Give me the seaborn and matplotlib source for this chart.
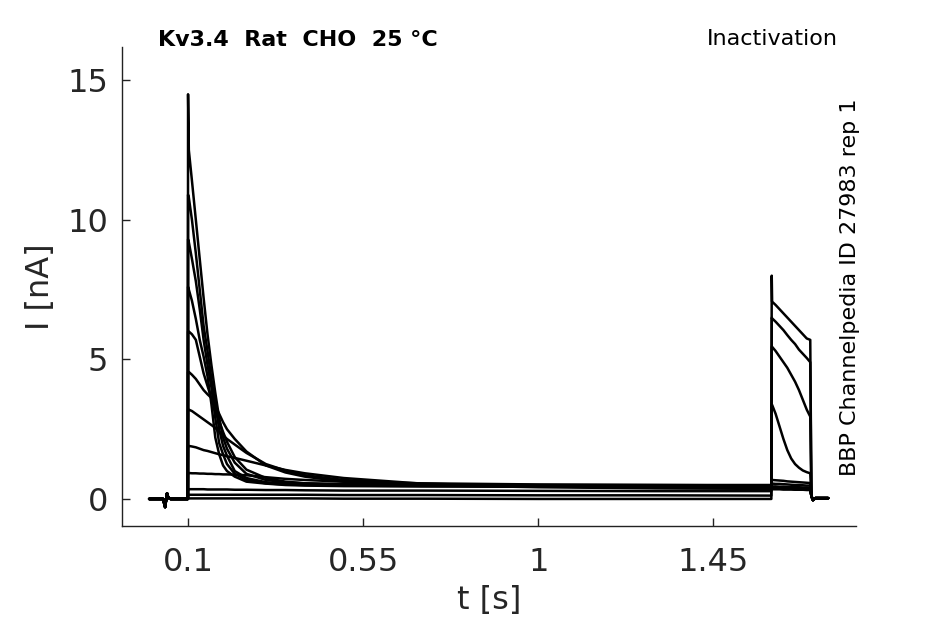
import pandas as pd
import matplotlib
matplotlib.use("Agg")
import matplotlib.pyplot as plt
import seaborn as sns

sns.set_theme(style="ticks")
plt.rcParams["font.family"] = ["DejaVu Sans"]

# shared holding segment before the prepulse (with the small artifact)
pre_t = [0.0, 0.036, 0.041, 0.046, 0.049, 0.055, 0.0995]
pre_i = [0.0, 0.0, -0.29, 0.2, 0.05, 0.0, 0.0]

# prepulse segment, one list per trace
pp_t = [0.1, 0.102, 0.11, 0.12, 0.13, 0.14, 0.15, 0.16, 0.17, 0.18, 0.19, 0.2,
        0.22, 0.25, 0.3, 0.35, 0.4, 0.5, 0.7, 1.0, 1.3, 1.599]
pp = [
    [0.02, 0.02, 0.02, 0.02, 0.02, 0.02, 0.02, 0.02, 0.02, 0.02, 0.02, 0.02,
     0.02, 0.02, 0.02, 0.02, 0.02, 0.01, 0.01, 0.0, 0.0, 0.0],
    [0.15, 0.15, 0.15, 0.15, 0.15, 0.15, 0.15, 0.15, 0.15, 0.15, 0.15, 0.15,
     0.15, 0.15, 0.15, 0.15, 0.15, 0.14, 0.14, 0.13, 0.13, 0.12],
    [0.35, 0.35, 0.35, 0.35, 0.35, 0.35, 0.34, 0.34, 0.34, 0.34, 0.34, 0.34,
     0.33, 0.33, 0.32, 0.32, 0.31, 0.3, 0.3, 0.29, 0.28, 0.28],
    [0.93, 0.93, 0.92, 0.92, 0.91, 0.91, 0.9, 0.9, 0.89, 0.89, 0.88, 0.88,
     0.87, 0.85, 0.78, 0.72, 0.68, 0.62, 0.56, 0.52, 0.5, 0.5],
    [1.9, 1.9, 1.88, 1.85, 1.8, 1.75, 1.72, 1.68, 1.64, 1.6, 1.57, 1.53,
     1.47, 1.37, 1.2, 1.04, 0.92, 0.75, 0.55, 0.45, 0.4, 0.38],
    [3.2, 3.2, 3.15, 3.05, 2.95, 2.85, 2.75, 2.65, 2.55, 2.4, 2.28, 2.15,
     1.95, 1.65, 1.25, 1.02, 0.85, 0.68, 0.52, 0.45, 0.42, 0.4],
    [4.55, 4.55, 4.45, 4.3, 4.1, 3.9, 3.75, 3.62, 3.35, 3.05, 2.75, 2.5,
     2.15, 1.7, 1.2, 0.95, 0.8, 0.62, 0.5, 0.42, 0.38, 0.36],
    [6.0, 6.0, 5.9, 5.7, 5.1, 4.5, 4.05, 3.6, 3.15, 2.8, 2.4, 2.05,
     1.5, 1.05, 0.75, 0.62, 0.56, 0.5, 0.47, 0.45, 0.44, 0.43],
    [7.6, 7.5, 7.1, 6.45, 5.7, 5.1, 4.4, 3.4, 2.2, 1.6, 1.2, 1.0,
     0.8, 0.62, 0.55, 0.5, 0.48, 0.46, 0.45, 0.44, 0.43, 0.42],
    [9.3, 9.2, 8.6, 7.8, 6.8, 5.7, 4.8, 4.0, 2.9, 2.0, 1.6, 1.25,
     0.9, 0.68, 0.56, 0.52, 0.5, 0.48, 0.46, 0.45, 0.44, 0.43],
    [10.9, 10.8, 10.0, 8.8, 7.5, 6.2, 5.3, 4.3, 3.4, 2.5, 1.9, 1.55,
     1.0, 0.75, 0.6, 0.55, 0.52, 0.5, 0.48, 0.46, 0.45, 0.44],
    [14.5, 12.5, 11.4, 10.0, 8.6, 7.2, 5.9, 4.8, 3.8, 2.9, 2.2, 1.8,
     1.3, 0.9, 0.68, 0.6, 0.56, 0.54, 0.52, 0.5, 0.5, 0.48],
]

# test pulse segment
tp_t = [1.6, 1.601, 1.61, 1.62, 1.63, 1.64, 1.65, 1.66, 1.67, 1.68, 1.69, 1.699]
tp = [
    [8.0, 7.07, 6.95, 6.8, 6.65, 6.5, 6.35, 6.2, 6.05, 5.9, 5.75, 5.7],
    [6.5, 6.47, 6.35, 6.2, 6.05, 5.87, 5.7, 5.55, 5.35, 5.2, 5.05, 4.9],
    [5.45, 5.45, 5.3, 5.1, 4.9, 4.7, 4.45, 4.2, 3.9, 3.55, 3.2, 2.95],
    [3.37, 3.37, 3.05, 2.6, 2.15, 1.75, 1.45, 1.25, 1.12, 1.02, 0.96, 0.92],
    [0.68, 0.68, 0.67, 0.66, 0.65, 0.63, 0.62, 0.61, 0.6, 0.59, 0.58, 0.57],
    [0.55, 0.55, 0.54, 0.54, 0.53, 0.52, 0.51, 0.5, 0.5, 0.49, 0.48, 0.48],
    [0.45, 0.45, 0.45, 0.44, 0.44, 0.43, 0.43, 0.42, 0.42, 0.41, 0.41, 0.4],
    [0.42, 0.42, 0.42, 0.41, 0.41, 0.41, 0.4, 0.4, 0.4, 0.39, 0.39, 0.39],
    [0.4, 0.4, 0.4, 0.4, 0.39, 0.39, 0.39, 0.38, 0.38, 0.38, 0.37, 0.37],
    [0.38, 0.38, 0.38, 0.38, 0.37, 0.37, 0.37, 0.36, 0.36, 0.36, 0.35, 0.35],
    [0.36, 0.36, 0.36, 0.36, 0.35, 0.35, 0.35, 0.34, 0.34, 0.34, 0.33, 0.33],
    [0.35, 0.35, 0.35, 0.35, 0.34, 0.34, 0.34, 0.33, 0.33, 0.33, 0.32, 0.32],
]

# shared tail after the test pulse
tail_t = [1.702, 1.706, 1.712, 1.745]
tail_i = [0.1, -0.04, 0.03, 0.03]

xticks = [0.1, 0.55, 1, 1.45]
xticklabels = ["0.1", "0.55", "1", "1.45"]
yticks = [0, 5, 10, 15]

rows = []
for k in range(len(pp)):
    ts = pre_t + pp_t + tp_t + tail_t
    vs = pre_i + pp[k] + tp[k] + tail_i
    for t, v in zip(ts, vs):
        rows.append({"trace": k, "t": t, "I": v})
df = pd.DataFrame(rows)

fig = plt.figure(figsize=(9.45, 6.24), dpi=100)
ax = fig.add_axes([0.129, 0.157, 0.777, 0.768])

sns.lineplot(data=df, x="t", y="I", units="trace", estimator=None, sort=False,
             color="black", linewidth=1.8, ax=ax, legend=False)

ax.set_xlim(-0.07, 1.817)
ax.set_ylim(-0.97, 16.2)
ax.set_xticks(xticks)
ax.set_xticklabels(xticklabels)
ax.set_yticks(yticks)
sns.despine(ax=ax)
for s in ["left", "bottom"]:
    ax.spines[s].set_color("#222222")
    ax.spines[s].set_linewidth(1.0)
ax.tick_params(axis="both", direction="in", length=6, width=1.0,
               colors="#222222", labelsize=23, labelcolor="#262626")
ax.tick_params(axis="x", pad=15)
ax.tick_params(axis="y", pad=10)
ax.set_xlabel("t [s]", fontsize=23, color="#262626", labelpad=5)
ax.set_ylabel("I [nA]", fontsize=23, color="#262626", labelpad=8)

fig.text(158 / 945, 1 - 40 / 624, "Kv3.4  Rat  CHO  25 °C", fontsize=16,
         fontweight="bold", ha="left", va="center", color="black")
fig.text(838 / 945, 1 - 39 / 624, "Inactivation", fontsize=16,
         ha="right", va="center", color="black")
fig.text(850 / 945, 1 - 287 / 624, "BBP Channelpedia ID 27983 rep 1",
         fontsize=16, rotation=90, ha="center", va="center", color="black")

fig.savefig("out.png", dpi=100)
